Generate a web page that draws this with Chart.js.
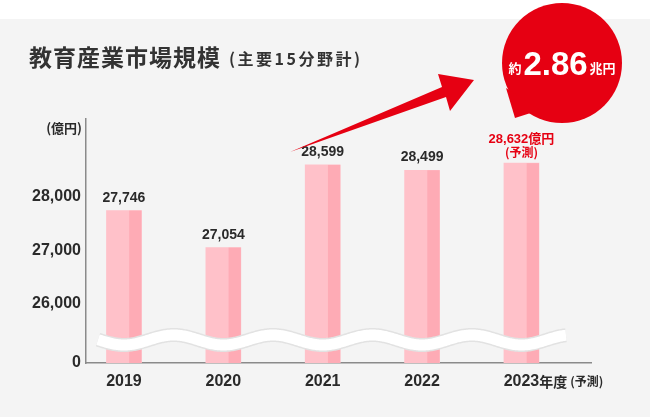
<!DOCTYPE html>
<html><head><meta charset="utf-8">
<script src="https://cdn.jsdelivr.net/npm/chart.js@4.4.1/dist/chart.umd.min.js"></script>
<style>html,body{margin:0;padding:0;background:#f4f4f4;}#wrap{width:650px;height:417px;position:relative;}</style>
</head><body><div id="wrap"><canvas id="c"></canvas></div>
<script>
// ---- data ----
const categories = ['2019', '2020', '2021', '2022', '2023'];
const marketValues = [27746, 27054, 28599, 28499, 28632];
const valueUnit = '億円';
const forecastNote = '(予測)';
const yTickValues = [24897, 26000, 27000, 28000];
const yTickLabels = ['0', '26,000', '27,000', '28,000'];
const yMax = 29458;
const yUnit = '(億円)';
const lastCategorySuffix = '年度';
const lastCategoryNote = '(予測)';
const chartTitle = '教育産業市場規模';
const chartSubtitle = '(主要15分野計)';
const bubblePrefix = '約';
const bubbleValue = '2.86';
const bubbleUnit = '兆円';

// ---- styles ----
const RED = '#e60012';
const BAR_LIGHT = '#ffc1c9';
const BAR_DARK = '#feabb5';
const AXIS = '#8a8a8a';
const TEXT = '#2a2a2a';
const SANS = "'Liberation Sans', 'Noto Sans CJK JP', sans-serif";
const CJK = "'Noto Sans CJK JP', sans-serif";

const decor = {
  id: 'decor',
  beforeDraw(chart) {
    const { ctx, width, height, chartArea } = chart;
    ctx.save();
    ctx.fillStyle = '#f4f4f4'; ctx.fillRect(0, 0, width, height);
    ctx.fillStyle = '#ffffff'; ctx.fillRect(0, 0, width, 19);
    ctx.fillStyle = '#333';
    ctx.textAlign = 'left'; ctx.textBaseline = 'alphabetic';
    ctx.font = `bold 23px ${CJK}`; ctx.letterSpacing = '1px';
    ctx.fillText(chartTitle, 29, 66);
    const w = ctx.measureText(chartTitle).width;
    ctx.font = `bold 16px ${CJK}`; ctx.letterSpacing = '2.5px';
    ctx.fillText(chartSubtitle, 29 + w + 8, 65);
    ctx.letterSpacing = '0px';
    ctx.fillStyle = TEXT;
    ctx.font = `bold 13px ${CJK}`; ctx.textAlign = 'right'; ctx.textBaseline = 'middle';
    ctx.fillText(yUnit, chartArea.left - 4, 128);
    ctx.restore();
  },
  afterDatasetsDraw(chart) {
    const { ctx, chartArea } = chart;
    const meta = chart.getDatasetMeta(0);
    ctx.save();
    meta.data.forEach(el => {
      const half = el.width / 2;
      const split = el.x - half + el.width * 0.65;
      const bottom = Math.min(el.base, chartArea.bottom);
      ctx.fillStyle = BAR_DARK;
      ctx.fillRect(split, el.y, el.x + half - split, bottom - el.y);
    });
    // wave (axis break)
    const cy = chartArea.bottom - 23, amp = 5, period = 99.4;
    const trough = chart.scales.x.getPixelForValue(0);
    const x0 = chartArea.left + 12, x1 = chartArea.left + 480;
    ctx.beginPath();
    for (let x = x0; x <= x1; x += 1) {
      const y = cy + amp * Math.cos(2 * Math.PI * (x - trough) / period);
      if (x === x0) ctx.moveTo(x, y); else ctx.lineTo(x, y);
    }
    ctx.lineCap = 'butt'; ctx.lineJoin = 'round';
    ctx.strokeStyle = '#e2e2e2'; ctx.lineWidth = 14; ctx.stroke();
    ctx.strokeStyle = '#ffffff'; ctx.lineWidth = 11; ctx.stroke();
    ctx.restore();
  },
  afterDraw(chart) {
    const { ctx } = chart;
    const meta = chart.getDatasetMeta(0);
    const last = categories.length - 1;
    ctx.save();
    // value labels
    meta.data.forEach((el, i) => {
      const txt = marketValues[i].toLocaleString('en-US');
      ctx.textAlign = 'center';
      if (i < last) {
        ctx.fillStyle = TEXT; ctx.font = `bold 14px ${SANS}`; ctx.textBaseline = 'alphabetic';
        ctx.fillText(txt, el.x, el.y - 9);
      } else {
        ctx.fillStyle = RED; ctx.font = `bold 13px ${SANS}`; ctx.textBaseline = 'middle';
        ctx.fillText(txt + valueUnit, el.x, el.y - 24);
        ctx.font = `bold 12px ${CJK}`;
        ctx.fillText(forecastNote, el.x, el.y - 11);
      }
    });
    // suffix on last category label
    const xs = chart.scales.x;
    const px = xs.getPixelForValue(last);
    ctx.font = `bold 16px ${SANS}`;
    const lw = ctx.measureText(categories[last]).width;
    const ly = xs.top + 9 + 9.6;
    ctx.fillStyle = TEXT; ctx.textAlign = 'left'; ctx.textBaseline = 'middle';
    ctx.font = `bold 14px ${CJK}`;
    ctx.fillText(lastCategorySuffix, px + lw / 2, ly);
    const sw = ctx.measureText(lastCategorySuffix).width;
    ctx.font = `bold 12px ${CJK}`;
    ctx.fillText(lastCategoryNote, px + lw / 2 + sw + 3, ly);
    // arrow
    ctx.fillStyle = RED;
    ctx.beginPath();
    ctx.moveTo(290, 152);
    ctx.lineTo(442, 87);
    ctx.lineTo(438, 74);
    ctx.lineTo(474, 80);
    ctx.lineTo(450, 111);
    ctx.lineTo(446, 97);
    ctx.closePath(); ctx.fill();
    // bubble
    ctx.beginPath(); ctx.arc(562, 63, 60, 0, Math.PI * 2); ctx.fill();
    ctx.beginPath(); ctx.moveTo(506, 88); ctx.lineTo(515, 118); ctx.lineTo(540, 110); ctx.closePath(); ctx.fill();
    ctx.fillStyle = '#ffffff'; ctx.textBaseline = 'alphabetic'; ctx.textAlign = 'left';
    ctx.font = `bold 13px ${CJK}`;
    const w1 = ctx.measureText(bubblePrefix).width;
    const w3 = ctx.measureText(bubbleUnit).width;
    ctx.font = `bold 33px ${SANS}`;
    const w2 = ctx.measureText(bubbleValue).width;
    const total = w1 + 2 + w2 + 2 + w3;
    let bx = 562 - total / 2;
    ctx.font = `bold 13px ${CJK}`; ctx.fillText(bubblePrefix, bx, 73);
    bx += w1 + 2;
    ctx.font = `bold 33px ${SANS}`; ctx.fillText(bubbleValue, bx, 75);
    bx += w2 + 2;
    ctx.font = `bold 13px ${CJK}`; ctx.fillText(bubbleUnit, bx, 73);
    ctx.restore();
  }
};

new Chart(document.getElementById('c'), {
  type: 'bar',
  data: {
    datasets: [{
      data: marketValues.map((v, i) => ({ x: i, y: v })),
      backgroundColor: BAR_LIGHT,
      borderWidth: 0,
      barThickness: 35
    }]
  },
  options: {
    responsive: true, maintainAspectRatio: false, animation: false, devicePixelRatio: 1,
    layout: { padding: { left: 0, right: 59, top: 119, bottom: 0 } },
    plugins: { legend: { display: false }, tooltip: { enabled: false } },
    scales: {
      x: {
        type: 'linear', min: -0.382, max: 4.70, offset: false, z: 1,
        grid: { display: false, drawTicks: false, offset: false },
        border: { display: true, color: AXIS, width: 1.5 },
        afterBuildTicks: s => { s.ticks = categories.map((c, i) => ({ value: i })); },
        ticks: {
          callback: (v, i) => categories[i], color: TEXT,
          font: { family: SANS, size: 16, weight: 'bold' }, padding: 9, maxRotation: 0, autoSkip: false
        },
        afterFit: s => { s.height = 54; }
      },
      y: {
        min: yTickValues[0], max: yMax, z: 1,
        grid: { display: false, drawTicks: false },
        border: { display: true, color: AXIS, width: 1.5 },
        afterBuildTicks: s => { s.ticks = yTickValues.map(v => ({ value: v })); },
        ticks: {
          callback: (v, i) => yTickLabels[i], color: TEXT,
          font: { family: SANS, size: 16, weight: 'bold' }, padding: 5
        },
        afterFit: s => { s.width = 86; }
      }
    }
  },
  plugins: [decor]
});
</script></body></html>
